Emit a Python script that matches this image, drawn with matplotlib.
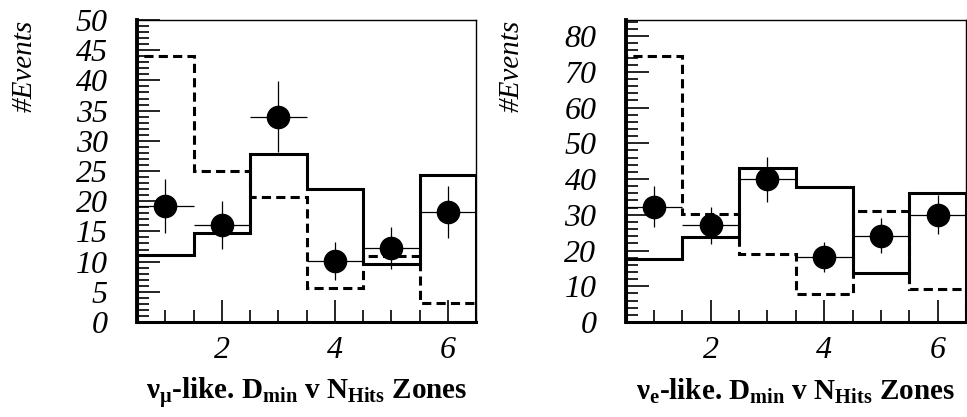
import numpy as np
import matplotlib
matplotlib.use("Agg")
import matplotlib.pyplot as plt
from matplotlib.ticker import MultipleLocator

plt.rcParams['font.family'] = ['Liberation Serif', 'DejaVu Serif']
plt.rcParams['mathtext.fontset'] = 'custom'
plt.rcParams['mathtext.rm'] = 'Liberation Serif'
plt.rcParams['mathtext.it'] = 'Liberation Serif:italic'
plt.rcParams['mathtext.bf'] = 'Liberation Serif:bold'

zones = [1, 2, 3, 4, 5, 6]
bin_edges = [0.5, 1.5, 2.5, 3.5, 4.5, 5.5, 6.5]

# nu_mu-like sample
mu_data = [19.2, 16.1, 34.0, 10.1, 12.2, 18.2]
mu_err = [4.4, 4.0, 5.9, 3.2, 3.5, 4.3]
mu_osc = [11.1, 14.8, 27.8, 22.0, 9.6, 24.4]
mu_noosc = [44.0, 25.0, 20.7, 5.7, 11.0, 3.1]

# nu_e-like sample
e_data = [32.3, 27.1, 40.0, 18.2, 24.2, 30.0]
e_err = [5.7, 5.2, 6.3, 4.3, 4.9, 5.5]
e_osc = [17.5, 23.8, 43.2, 37.7, 13.8, 36.1]
e_noosc = [74.4, 30.2, 18.9, 7.9, 31.0, 9.3]

W, H = 967, 417
fig = plt.figure(figsize=(W / 100, H / 100), dpi=100)

panels = [
    dict(rect=[0.1417, 0.2278, 0.3506, 0.7242], data=mu_data, err=mu_err,
         osc=mu_osc, noosc=mu_noosc, ymax=50, major=5, minor=1,
         ylab_x=25,
         xlabel=r'$\mathbf{ν_{μ}}$-like. $\mathbf{D_{min}}$ v $\mathbf{N_{Hits}}$ Zones'),
    dict(rect=[0.6470, 0.2278, 0.3519, 0.7242], data=e_data, err=e_err,
         osc=e_osc, noosc=e_noosc, ymax=84.5, major=10, minor=2,
         ylab_x=512,
         xlabel=r'$\mathbf{ν_{e}}$-like. $\mathbf{D_{min}}$ v $\mathbf{N_{Hits}}$ Zones'),
]

for p in panels:
    ax = fig.add_axes(p['rect'])
    ax.stairs(p['noosc'], bin_edges, baseline=0, color='black', lw=2.2,
              linestyle=(0, (3.0, 1.7)))
    ax.stairs(p['osc'], bin_edges, baseline=0, color='black', lw=2.2)
    ax.errorbar(zones, p['data'], yerr=p['err'], xerr=0.5, fmt='o',
                color='black', ms=16, elinewidth=0.9, capsize=0, zorder=5)
    ax.set_xlim(0.5, 6.5)
    ax.set_ylim(0, p['ymax'])
    ax.xaxis.set_major_locator(MultipleLocator(2))
    ax.xaxis.set_minor_locator(MultipleLocator(0.5))
    ax.yaxis.set_major_locator(MultipleLocator(p['major']))
    ax.yaxis.set_minor_locator(MultipleLocator(p['minor']))
    ax.tick_params(which='both', direction='in', top=False, right=False,
                   labelsize=23)
    ax.tick_params(axis='x', which='major', length=16, width=1.2, pad=10)
    ax.tick_params(axis='x', which='minor', length=8.5, width=1.2)
    ax.tick_params(axis='y', which='major', length=16.5, width=1.2, pad=21)
    ax.tick_params(axis='y', which='minor', length=8.5, width=1.2)
    for lab in ax.get_xticklabels() + ax.get_yticklabels():
        lab.set_fontstyle('italic')
    ax.spines['left'].set_linewidth(2.8)
    ax.spines['bottom'].set_linewidth(2.2)
    ax.spines['top'].set_linewidth(1.0)
    ax.spines['right'].set_linewidth(1.0)

    # axis titles
    cx = p['rect'][0] + p['rect'][2] / 2
    fig.text(cx, (H - 400) / H, p['xlabel'], fontsize=21, fontweight='bold',
             ha='center', va='baseline')
    fig.text(p['ylab_x'] / W, (H - 20) / H, '#Events', fontsize=21,
             fontstyle='italic', rotation=90, ha='center', va='top')

fig.savefig('out.png', dpi=100)
